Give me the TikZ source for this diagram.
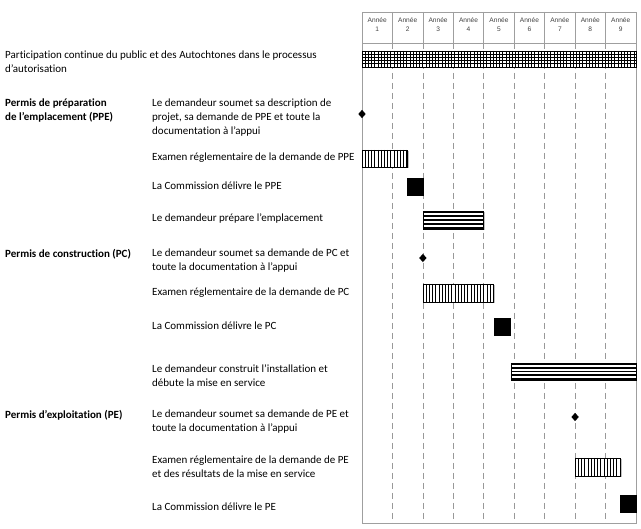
\documentclass[tikz,border=0pt]{standalone}
\usepackage{fontspec}
\setmainfont{Carlito}[Ligatures=NoCommon]
\newfontfamily\hdrfont{Liberation Sans}
\usetikzlibrary{shapes.geometric,shadows}
% position of a point in years on the time axis
\newcommand{\xan}[1]{362+30.44*(#1)}
% bar with thin vertical lines: start, end (years), top, bottom (pt)
\newcommand{\barrevert}[4]{%
	\path[barre,fill=white] ({\xan{#1}},#3) rectangle ({\xan{#2}},#4);
	\begin{scope}
		\clip ({\xan{#1}},#3) rectangle ({\xan{#2}},#4);
		\foreach \k in {0,3.2,...,300}
			\draw[line width=0.7pt] ({\xan{#1}+\k},#3) -- ({\xan{#1}+\k},#4);
	\end{scope}
	\draw[line width=0.7pt] ({\xan{#1}},#3) rectangle ({\xan{#2}},#4);}
% bar with thick horizontal stripes
\newcommand{\barrehoriz}[4]{%
	\path[barre,fill=white] ({\xan{#1}},#3) rectangle ({\xan{#2}},#4);
	\foreach \k in {0,2,4,6,8}
		\draw[line width=1.9pt] ({\xan{#1}},{#3+(\k+0.5)*(#4-#3)/9}) -- ({\xan{#2}},{#3+(\k+0.5)*(#4-#3)/9});
	\draw[line width=0.7pt] ({\xan{#1}},#3) rectangle ({\xan{#2}},#4);}

\begin{document}
\begin{tikzpicture}[x=1pt,y=-1pt,
	cadre/.style={draw=gray!75,line width=0.8pt},
	tirets/.style={draw=gray!80,line width=0.7pt,dash pattern=on 6pt off 4pt},
	barre/.style={drop shadow={shadow xshift=1.2pt,shadow yshift=-1.2pt,fill=gray!60,opacity=0.8}},
	plein/.style={barre,draw=black,line width=0.6pt,fill=black},
	jalon/.style={diamond,fill=black,inner sep=0pt,minimum width=7.5pt,minimum height=8.5pt}]
	\useasboundingbox (0,0) rectangle (641,529);
	
	% grid of years
	\foreach \i in {1,...,8}{
		\draw[gray!75,line width=0.6pt] ({\xan{\i}},12) -- ({\xan{\i}},43);
		\draw[tirets] ({\xan{\i}},43) -- ({\xan{\i}},523);
	}
	\draw[cadre] ({\xan{0}},12) rectangle ({\xan{9}},523);
	\draw[cadre] ({\xan{0}},43) -- ({\xan{9}},43);
	\foreach \i in {1,...,9}
		\node[font=\hdrfont\fontsize{6.6}{9}\selectfont,text=black!75,align=center,inner sep=0pt]
			(an\i) at ({\xan{\i-0.5}},24.5) {Année\\\i};
	
	% texts on the left
	\begin{scope}[every node/.style={anchor=west,align=left,inner sep=0pt,
		font=\fontsize{11}{14}\selectfont}]
	\node (part) at (5,62) {Participation continue du public et des Autochtones dans le processus\\d'autorisation};
	\node[font=\bfseries\fontsize{11}{14}\selectfont] (ppe) at (5,111) {Permis de préparation\\de l'emplacement (PPE)};
	\node[font=\bfseries\fontsize{11}{14}\selectfont] (pc) at (5,254) {Permis de construction (PC)};
	\node[font=\bfseries\fontsize{11}{14}\selectfont] (pe) at (5,415) {Permis d'exploitation (PE)};
	
	\node (d1) at (152,118) {Le demandeur soumet sa description de\\projet, sa demande de PPE et toute la\\documentation à l'appui};
	\node (d2) at (152,158) {Examen réglementaire de la demande de PPE};
	\node (d3) at (152,186) {La Commission délivre le PPE};
	\node (d4) at (152,219) {Le demandeur prépare l'emplacement};
	\node (d5) at (152,261) {Le demandeur soumet sa demande de PC et\\toute la documentation à l'appui};
	\node (d6) at (152,293) {Examen réglementaire de la demande de PC};
	\node (d7) at (152,326) {La Commission délivre le PC};
	\node (d8) at (152,376) {Le demandeur construit l'installation et\\débute la mise en service};
	\node (d9) at (152,422) {Le demandeur soumet sa demande de PE et\\toute la documentation à l'appui};
	\node (d10) at (152,467) {Examen réglementaire de la demande de PE\\et des résultats de la mise en service};
	\node (d11) at (152,507) {La Commission délivre le PE};
	\end{scope}
	
	% participation bar (grid)
	\path[barre,fill=white] ({\xan{0}},51) rectangle ({\xan{9}},67);
	\foreach \k in {0,3.2,...,273}
		\draw[line width=0.7pt] ({\xan{0}+\k},51) -- ({\xan{0}+\k},67);
	\foreach \k in {54.2,57.4,...,66}
		\draw[line width=0.7pt] ({\xan{0}},\k) -- ({\xan{9}},\k);
	\draw[line width=0.7pt] ({\xan{0}},51) rectangle ({\xan{9}},67);
	
	% bars and milestones
	\node[jalon] (j1) at ({\xan{0}},114) {};
	\barrevert{0}{1.5}{150}{167}
	\path[plein] ({\xan{1.5}},178) rectangle ({\xan{2}},195);
	\barrehoriz{2}{4}{211}{229}
	\node[jalon] (j2) at ({\xan{2}},258) {};
	\barrevert{2}{4.33}{284}{302}
	\path[plein] ({\xan{4.36}},318) rectangle ({\xan{4.86}},335);
	\barrehoriz{4.92}{9}{363}{380}
	\node[jalon] (j3) at ({\xan{7}},417) {};
	\barrevert{7}{8.5}{458}{476}
	\path[plein] ({\xan{8.5}},495) rectangle ({\xan{9}},512);
\end{tikzpicture}
\end{document}
